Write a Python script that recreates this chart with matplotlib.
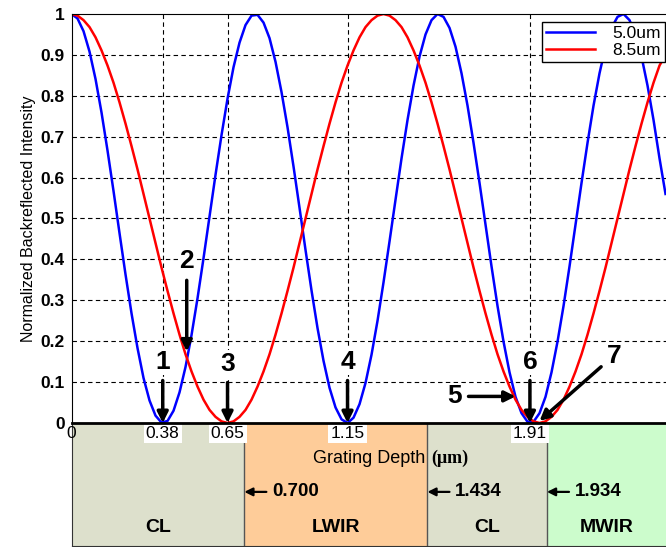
import numpy as np
import matplotlib
matplotlib.use('Agg')
import matplotlib.pyplot as plt

plt.rcParams['font.family'] = ['Liberation Sans', 'DejaVu Sans']

# grating depth samples (um), one every 0.025
depth = np.round(np.arange(0, 2.476, 0.025), 3)

# normalized backreflected intensity
blue_5um = [1, 0.989, 0.958, 0.908, 0.841, 0.759, 0.666, 0.567, 0.464, 0.363,
            0.268, 0.183, 0.11, 0.055, 0.018, 0.001, 0.005, 0.03, 0.075, 0.137,
            0.215, 0.305, 0.403, 0.505, 0.607, 0.704, 0.793, 0.87, 0.93, 0.973,
            0.996, 0.998, 0.979, 0.941, 0.883, 0.809, 0.723, 0.627, 0.526, 0.423,
            0.324, 0.232, 0.152, 0.086, 0.038, 0.009, 0, 0.013, 0.046, 0.098,
            0.167, 0.25, 0.344, 0.444, 0.546, 0.647, 0.741, 0.825, 0.896, 0.95,
            0.985, 1, 0.993, 0.966, 0.92, 0.855, 0.776, 0.685, 0.587, 0.485,
            0.383, 0.286, 0.199, 0.124, 0.064, 0.024, 0.003, 0.003, 0.024, 0.064,
            0.124, 0.199, 0.286, 0.383, 0.485, 0.587, 0.685, 0.776, 0.855, 0.92,
            0.966, 0.993, 1, 0.985, 0.95, 0.896, 0.825, 0.741, 0.647, 0.56]
red_8p5um = [1, 0.996, 0.985, 0.968, 0.943, 0.911, 0.874, 0.832, 0.784, 0.732,
             0.677, 0.62, 0.56, 0.5, 0.44, 0.38, 0.323, 0.268, 0.216, 0.168,
             0.126, 0.089, 0.057, 0.032, 0.015, 0.004, 0, 0.004, 0.015, 0.032,
             0.057, 0.089, 0.126, 0.168, 0.216, 0.268, 0.323, 0.38, 0.44, 0.5,
             0.56, 0.62, 0.677, 0.732, 0.784, 0.832, 0.874, 0.911, 0.943, 0.968,
             0.985, 0.996, 1, 0.996, 0.985, 0.968, 0.943, 0.911, 0.874, 0.832,
             0.784, 0.732, 0.677, 0.62, 0.56, 0.5, 0.44, 0.38, 0.323, 0.268,
             0.216, 0.168, 0.126, 0.089, 0.057, 0.032, 0.015, 0.004, 0, 0.004,
             0.015, 0.032, 0.057, 0.089, 0.126, 0.168, 0.216, 0.268, 0.323, 0.38,
             0.44, 0.5, 0.56, 0.62, 0.677, 0.732, 0.784, 0.832, 0.874, 0.9]

xticks = [0, 0.38, 0.65, 1.15, 1.91]
xtick_labels = ['0', '0.38', '0.65', '1.15', '1.91']

# numbered points: (label, tip x, tip y, text x, text y)
markers = [('1', 0.38, 0.0, 0.38, 0.15),
           ('2', 0.48, 0.175, 0.48, 0.395),
           ('3', 0.65, 0.0, 0.65, 0.145),
           ('4', 1.15, 0.0, 1.15, 0.15),
           ('5', 1.85, 0.065, 1.595, 0.065),
           ('6', 1.91, 0.0, 1.91, 0.15),
           ('7', 1.95, 0.005, 2.26, 0.165)]

# wavelength bands under the axis
band_edges = [0, 0.72, 1.483, 1.981, 2.477]
band_names = ['CL', 'LWIR', 'CL', 'MWIR']
band_colors = ['#dde0cc', '#fecc99', '#dde0cc', '#ccfccc']
edge_labels = ['0.700', '1.434', '1.934']

xmax = 2.477

fig = plt.figure(figsize=(6.66, 5.47), dpi=100)

# band strip first so the main axis is drawn on top
axb = fig.add_axes([0.1074, 0.0018, 0.8926, 0.2249])
for i in range(len(band_names)):
    axb.axvspan(band_edges[i], band_edges[i + 1], color=band_colors[i], lw=0)
    axb.text((band_edges[i] + band_edges[i + 1]) / 2, 0.15, band_names[i],
             ha='center', va='center', fontsize=14, fontweight='bold')
for i in range(1, len(band_edges) - 1):
    axb.axvline(band_edges[i], color='#555555', lw=1)
    axb.annotate(edge_labels[i - 1], xy=(band_edges[i], 0.44),
                 xytext=(band_edges[i] + 0.115, 0.44), ha='left', va='center',
                 fontsize=13.5, fontweight='bold',
                 arrowprops=dict(arrowstyle='-|>', color='black', lw=1.6,
                                 mutation_scale=12, shrinkA=2, shrinkB=0,
                                 relpos=(0, 0.5)))
for x, lab in zip(xticks, xtick_labels):
    if x == 0:
        axb.text(x, 0.915, lab, ha='center', va='center', fontsize=12.5)
    else:
        axb.text(x, 0.915, lab, ha='center', va='center', fontsize=12.5,
                 bbox=dict(facecolor='white', edgecolor='none', pad=1.5))
axb.text(1.472, 0.715, 'Grating Depth', ha='right', va='center', fontsize=13,
         family=['Liberation Sans Narrow', 'Liberation Sans'])
axb.text(1.50, 0.715, '(\u03bcm)', ha='left', va='center', fontsize=13,
         fontweight='bold', family=['Liberation Serif', 'DejaVu Serif'])
axb.set_xlim(0, xmax)
axb.set_ylim(0, 1)
axb.set_xticks([])
axb.set_yticks([])
for s in ['top', 'right']:
    axb.spines[s].set_visible(False)
axb.spines['left'].set_color('#333333')
axb.spines['bottom'].set_color('#333333')

# main plot
ax = fig.add_axes([0.1074, 0.2267, 0.8926, 0.7477])
ax.plot(depth, blue_5um, color='#0000ff', lw=1.8, label='5.0um')
ax.plot(depth, red_8p5um, color='#ff0000', lw=1.8, label='8.5um')
ax.set_xlim(0, xmax)
ax.set_ylim(0, 1)
ax.set_yticks(np.arange(0, 1.01, 0.1))
ax.set_yticklabels(['0', '0.1', '0.2', '0.3', '0.4', '0.5', '0.6', '0.7',
                    '0.8', '0.9', '1'], fontsize=12.5, fontweight='bold')
ax.set_xticks([])
ax.tick_params(axis='y', length=0, pad=5)
for y in np.arange(0.1, 1.0, 0.1):
    ax.axhline(y, color='black', lw=0.8, ls=(0, (4, 3)), zorder=0)
for x in xticks[1:]:
    ax.axvline(x, color='black', lw=0.8, ls=(0, (4, 3)), zorder=0)
ax.spines['right'].set_visible(False)
ax.spines['bottom'].set_linewidth(2)
ax.set_ylabel('Normalized Backreflected Intensity', fontsize=11.5,
              family=['Liberation Sans Narrow', 'Liberation Sans'], labelpad=3)

for lab, tx, ty, px, py in markers:
    ax.annotate(lab, xy=(tx, ty), xytext=(px, py), ha='center', va='center',
                fontsize=19, fontweight='bold',
                bbox=dict(facecolor='white', edgecolor='none', pad=1),
                arrowprops=dict(arrowstyle='-|>', color='black', lw=2.5,
                                mutation_scale=16, shrinkA=4, shrinkB=0))

leg = ax.legend(loc='upper right', bbox_to_anchor=(0.998, 0.981), fontsize=12.5,
                fancybox=False, framealpha=1, edgecolor='black',
                borderpad=0.25, borderaxespad=0, handlelength=2.8,
                handletextpad=1.0, labelspacing=0.1)
leg.get_frame().set_linewidth(1)

fig.savefig('out.png', dpi=100)
